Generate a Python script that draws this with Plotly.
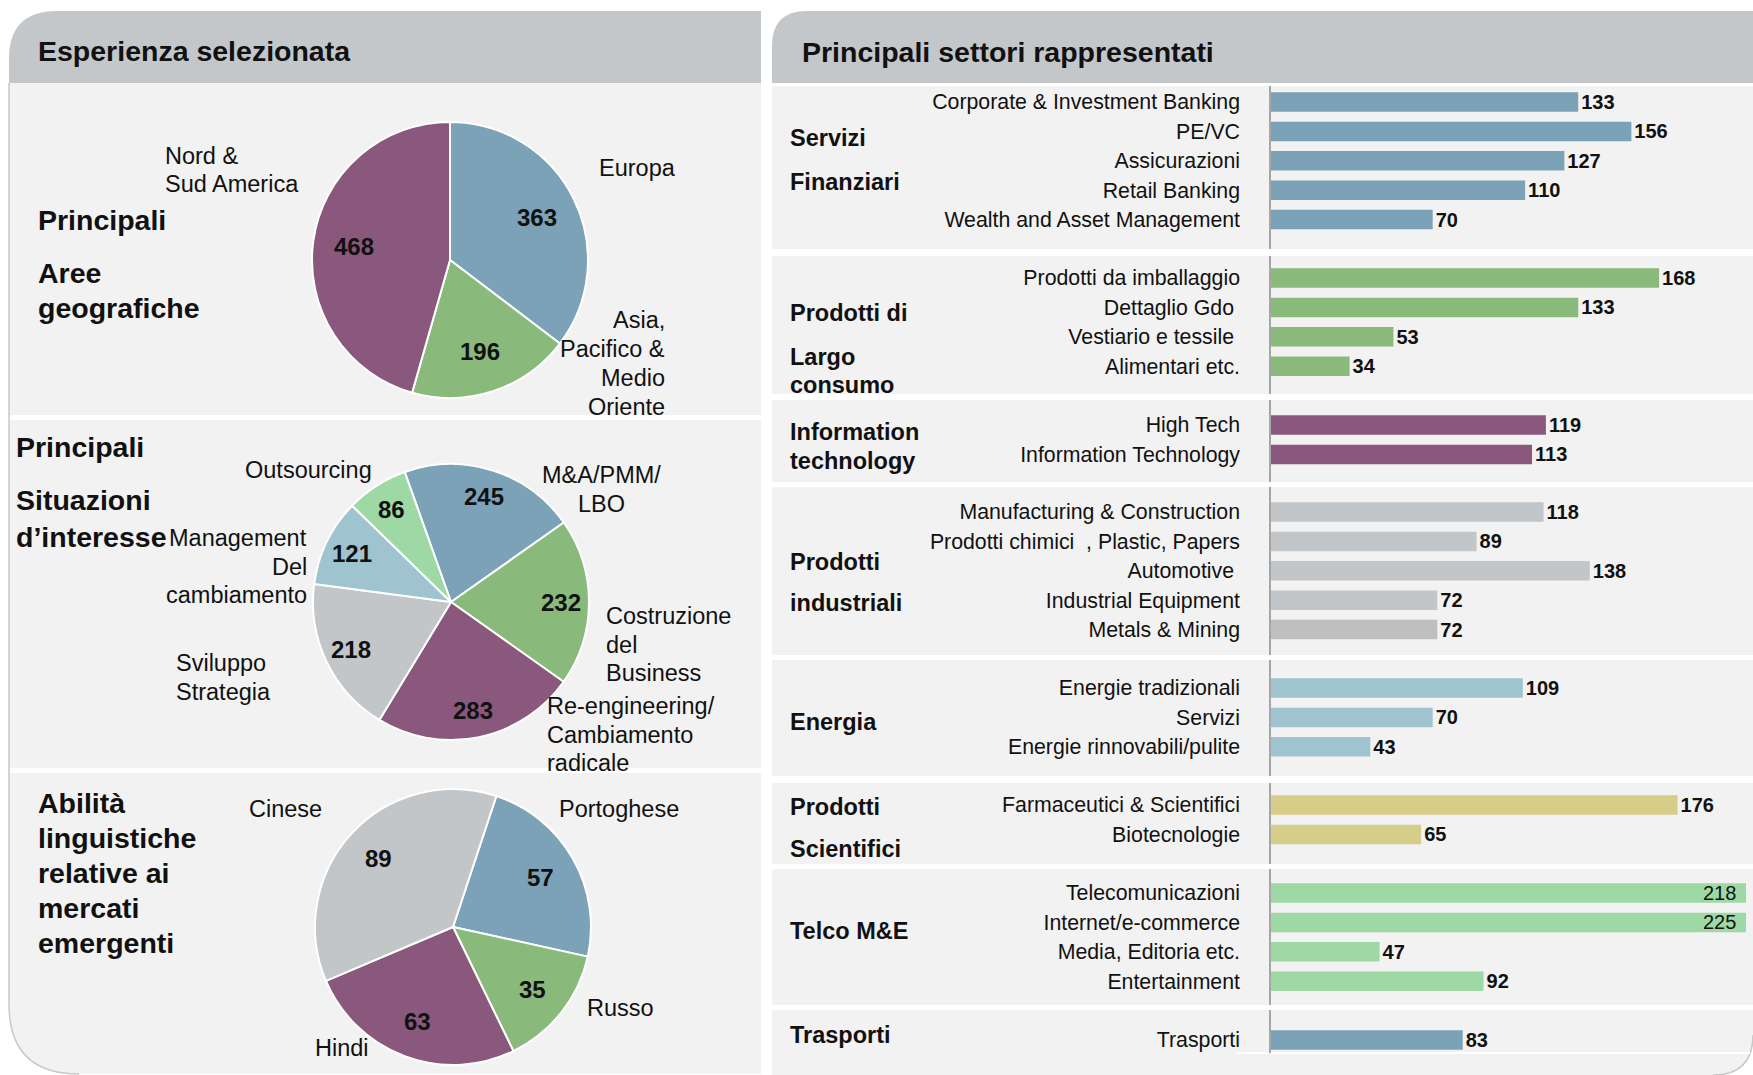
import math
import plotly.graph_objects as go

W, H = 1753, 1075
FONT = "Liberation Sans, Arial, Helvetica, sans-serif"
INK = "#111111"

BLUE, GREEN, PURPLE, GRAY = "#7ba2b7", "#8aba7b", "#8a587c", "#c3c6c9"
LBLUE, LGREEN, YELLOW, DGRAY = "#9fc4d0", "#9dd8a5", "#d6cd88", "#bfbfbf"
PANEL, HEADER, EDGE = "#f2f2f2", "#c4c7ca", "#c8c8c8"

# ---------------- data ----------------
geo_labels = ["Europa", "Asia,<br>Pacifico &<br>Medio<br>Oriente", "Nord &<br>Sud America"]
geo_values = [363, 196, 468]
geo_colors = [BLUE, GREEN, PURPLE]

sit_labels = ["M&A/PMM/<br>LBO", "Costruzione<br>del<br>Business",
              "Re-engineering/<br>Cambiamento<br>radicale", "Sviluppo<br>Strategia",
              "Management<br>Del<br>cambiamento", "Outsourcing"]
sit_values = [245, 232, 283, 218, 121, 86]
sit_colors = [BLUE, GREEN, PURPLE, GRAY, LBLUE, LGREEN]

lang_labels = ["Portoghese", "Russo", "Hindi", "Cinese"]
lang_values = [57, 35, 63, 89]
lang_colors = [BLUE, GREEN, PURPLE, GRAY]

group_titles = ["Servizi<br>Finanziari", "Prodotti di<br>Largo<br>consumo", "Information<br>technology",
                "Prodotti<br>industriali", "Energia", "Prodotti<br>Scientifici", "Telco M&E", "Trasporti"]

fin_labels = ["Corporate & Investment Banking", "PE/VC", "Assicurazioni", "Retail Banking",
              "Wealth and Asset Management"]
fin_values = [133, 156, 127, 110, 70]
cons_labels = ["Prodotti da imballaggio", "Dettaglio Gdo ", "Vestiario e tessile ", "Alimentari etc."]
cons_values = [168, 133, 53, 34]
it_labels = ["High Tech", "Information Technology"]
it_values = [119, 113]
ind_labels = ["Manufacturing & Construction", "Prodotti chimici  , Plastic, Papers", "Automotive ",
              "Industrial Equipment", "Metals & Mining"]
ind_values = [118, 89, 138, 72, 72]
en_labels = ["Energie tradizionali", "Servizi", "Energie rinnovabili/pulite"]
en_values = [109, 70, 43]
sci_labels = ["Farmaceutici & Scientifici", "Biotecnologie"]
sci_values = [176, 65]
tel_labels = ["Telecomunicazioni", "Internet/e-commerce", "Media, Editoria etc.", "Entertainment"]
tel_values = [218, 225, 47, 92]
tra_labels = ["Trasporti"]
tra_values = [83]

sections = [
    (fin_labels, fin_values, [BLUE] * 5),
    (cons_labels, cons_values, [GREEN] * 4),
    (it_labels, it_values, [PURPLE] * 2),
    (ind_labels, ind_values, [GRAY] * 4 + [DGRAY]),
    (en_labels, en_values, [LBLUE] * 3),
    (sci_labels, sci_values, [YELLOW] * 2),
    (tel_labels, tel_values, [LGREEN] * 4),
    (tra_labels, tra_values, [BLUE]),
]

# ---------------- layout geometry (pixels) ----------------
SEC_TOP = [86, 256, 400, 487, 660, 783, 869, 1010]
SEC_BOT = [249, 394, 482, 655, 776, 864, 1005, 1053]
FIRST_BAR = [102, 278, 425, 512, 688, 805, 893, 1040]
PITCH = 29.4
BAR_X0, BAR_X1, PX_PER_UNIT = 1271, 1746, 2.31
XMAX = (BAR_X1 - BAR_X0) / PX_PER_UNIT
GROUP_X = 788
GROUP_LINES_Y = [[138, 182], [313, 357, 385], [432, 461], [562, 603], [722], [807, 849], [931], [1035]]

PIES = [  # center x, center y, radius, rotation, value-label radius fraction
    (450, 260, 138, 0, 0.70),
    (451, 602, 138, -19.6, 0.80),
    (453, 927, 138, 18.3, 0.73),
]
geo_pos = [(597, 168, 29, "left"), (667, 320, 29, "right"), (163, 156, 28, "left")]
sit_pos = [(601, 475, 29, "center"), (604, 616, 28.5, "left"), (545, 706, 28.5, "left"),
           (174, 663, 29, "left"), (309, 538, 28.5, "right"), (308, 470, 29, "center")]
lang_pos = [(557, 809, 0, "left"), (585, 1008, 0, "left"), (313, 1048, 0, "left"), (247, 809, 0, "left")]

left_titles = [
    (36, ["Principali", "Aree", "geografiche"], [220, 273, 308]),
    (14, ["Principali", "Situazioni", "d’interesse"], [447, 500, 537]),
    (36, ["Abilità", "linguistiche", "relative ai", "mercati", "emergenti"], [803, 838, 873, 908, 943]),
]


def X(px):
    return px / W


def Y(py):
    return 1 - py / H


def path(cmds):
    out = []
    for c in cmds:
        if c[0] == "Z":
            out.append("Z")
        else:
            pts = c[1:]
            coords = []
            for k in range(0, len(pts), 2):
                coords.append(f"{X(pts[k]):.6f},{Y(pts[k + 1]):.6f}")
            out.append(c[0] + " " + " ".join(coords))
    return " ".join(out)


fig = go.Figure()
annotations = []

# ---------------- pies ----------------
for (labels, values, colors), (cx, cy, r, rot, frac) in zip(
        [(geo_labels, geo_values, geo_colors), (sit_labels, sit_values, sit_colors),
         (lang_labels, lang_values, lang_colors)], PIES):
    fig.add_trace(go.Pie(
        labels=labels, values=values, sort=False, direction="clockwise", rotation=rot,
        domain=dict(x=[X(cx - r), X(cx + r)], y=[Y(cy + r), Y(cy - r)]),
        marker=dict(colors=colors, line=dict(color="white", width=2)),
        textinfo="none", showlegend=False, hoverinfo="label+value",
    ))
    # value labels placed at each slice's mid-angle (computed from the values)
    total = float(sum(values))
    cum = 0.0
    for v in values:
        mid = math.radians(rot + (cum + v / 2.0) / total * 360.0)
        cum += v
        px = cx + frac * r * math.sin(mid)
        py = cy - frac * r * math.cos(mid)
        annotations.append(dict(x=X(px), y=Y(py), xref="paper", yref="paper", text=f"<b>{v}</b>",
                                xanchor="center", yanchor="middle", showarrow=False,
                                font=dict(family=FONT, size=24, color=INK)))

# ---------------- bars ----------------
layout_axes = {}
for i, (labels, values, colors) in enumerate(sections):
    ax = "" if i == 0 else str(i + 1)
    top, bot, c0 = SEC_TOP[i], SEC_BOT[i], FIRST_BAR[i]
    fig.add_trace(go.Bar(
        x=values, y=labels, orientation="h", xaxis="x" + ax, yaxis="y" + ax,
        marker=dict(color=colors, line=dict(width=0)),
        texttemplate="<b>%{x}</b>",
        textposition=["outside" if v <= XMAX else "none" for v in values],
        textfont=dict(family=FONT, size=20, color=INK), constraintext="none",
        showlegend=False, hoverinfo="y+x",
    ))
    layout_axes["xaxis" + ax] = dict(domain=[X(BAR_X0), X(BAR_X1)], range=[0, XMAX], visible=False,
                                     anchor="y" + ax, fixedrange=True)
    layout_axes["yaxis" + ax] = dict(
        domain=[Y(bot), Y(top)], anchor="x" + ax, type="category", categoryorder="array",
        categoryarray=labels, range=[(bot - c0) / PITCH, (top - c0) / PITCH],
        showline=True, linecolor="#a6a6a6", linewidth=1.5, ticks="", showgrid=False, zeroline=False,
        tickfont=dict(family=FONT, size=21.3, color=INK), ticklabelstandoff=25, fixedrange=True)
    for lab, v in zip(labels, values):
        if v > XMAX:
            annotations.append(dict(x=XMAX, y=lab, xref="x" + ax, yref="y" + ax, text=str(v),
                                    xanchor="right", yanchor="middle", xshift=-8, showarrow=False,
                                    font=dict(family=FONT, size=20, color=INK)))
    # group titles
    for line, ly in zip(group_titles[i].split("<br>"), GROUP_LINES_Y[i]):
        annotations.append(dict(x=X(GROUP_X), y=Y(ly), xref="paper", yref="paper", text="<b>" + line + "</b>",
                                xanchor="left", yanchor="middle", showarrow=False,
                                font=dict(family=FONT, size=23.5, color=INK)))

# ---------------- pie category labels ----------------
for labels, positions in [(geo_labels, geo_pos), (sit_labels, sit_pos), (lang_labels, lang_pos)]:
    for lab, (lx, ly, sp, anc) in zip(labels, positions):
        for k, line in enumerate(lab.split("<br>")):
            annotations.append(dict(x=X(lx), y=Y(ly + k * sp), xref="paper", yref="paper", text=line,
                                    xanchor=anc, yanchor="middle", showarrow=False,
                                    font=dict(family=FONT, size=23.5, color=INK)))

for tx, lines, ys in left_titles:
    for line, ly in zip(lines, ys):
        annotations.append(dict(x=X(tx), y=Y(ly), xref="paper", yref="paper", text="<b>" + line + "</b>",
                                xanchor="left", yanchor="middle", showarrow=False,
                                font=dict(family=FONT, size=28.5, color=INK)))

# headers
annotations.append(dict(x=X(36), y=Y(51), xref="paper", yref="paper", text="<b>Esperienza selezionata</b>",
                        xanchor="left", yanchor="middle", showarrow=False,
                        font=dict(family=FONT, size=28.5, color=INK)))
annotations.append(dict(x=X(800), y=Y(52), xref="paper", yref="paper",
                        text="<b>Principali settori rappresentati</b>",
                        xanchor="left", yanchor="middle", showarrow=False,
                        font=dict(family=FONT, size=28.5, color=INK)))

# ---------------- panel shapes ----------------
shapes = []


def add_path(cmds, fill=None, line=None, width=0):
    shapes.append(dict(type="path", xref="paper", yref="paper", path=path(cmds), layer="below",
                       fillcolor=fill if fill else "rgba(0,0,0,0)",
                       line=dict(color=line if line else "rgba(0,0,0,0)", width=width)))


def add_rect(x0, y0, x1, y1, fill):
    shapes.append(dict(type="rect", xref="paper", yref="paper", x0=X(x0), x1=X(x1), y0=Y(y1), y1=Y(y0),
                       fillcolor=fill, line=dict(width=0), layer="below"))


# left panel
add_path([("M", 57, 11), ("L", 761, 11), ("L", 761, 1074), ("L", 79, 1074), ("Q", 9, 1074, 9, 1004),
          ("L", 9, 59), ("Q", 9, 11, 57, 11), ("Z",)], fill=PANEL)
add_path([("M", 9, 83), ("L", 9, 59), ("Q", 9, 11, 57, 11), ("L", 761, 11), ("L", 761, 83), ("Z",)], fill=HEADER)
add_path([("M", 9, 83), ("L", 9, 1004), ("Q", 9, 1074, 79, 1074)], line=EDGE, width=1.5)
add_rect(10, 415, 761, 420, "white")
add_rect(10, 768, 761, 773, "white")

# right panel
add_path([("M", 807, 11), ("L", 1753, 11), ("L", 1753, 1035), ("Q", 1753, 1075, 1713, 1075), ("L", 772, 1075),
          ("L", 772, 46), ("Q", 772, 11, 807, 11), ("Z",)], fill=PANEL)
add_path([("M", 772, 83), ("L", 772, 46), ("Q", 772, 11, 807, 11), ("L", 1753, 11), ("L", 1753, 83), ("Z",)],
         fill=HEADER)
add_path([("M", 1753, 1035), ("Q", 1753, 1075, 1713, 1075)], line=EDGE, width=1.5)
for y0, y1 in [(83, 86), (249, 256), (394, 400), (482, 487), (655, 660), (776, 783), (864, 869), (1005, 1010)]:
    add_rect(772, y0, 1753, y1, "white")
add_rect(1236, 1052, 1750, 1054, "white")

fig.update_layout(
    width=W, height=H, margin=dict(l=0, r=0, t=0, b=0),
    paper_bgcolor="white", plot_bgcolor="rgba(0,0,0,0)",
    bargap=0.337, showlegend=False,
    font=dict(family=FONT, color=INK),
    shapes=shapes, annotations=annotations,
    **layout_axes,
)

fig.write_html("out.html", config={"displayModeBar": False},
               post_script="document.body.style.margin='0px';document.body.style.overflow='hidden';")
